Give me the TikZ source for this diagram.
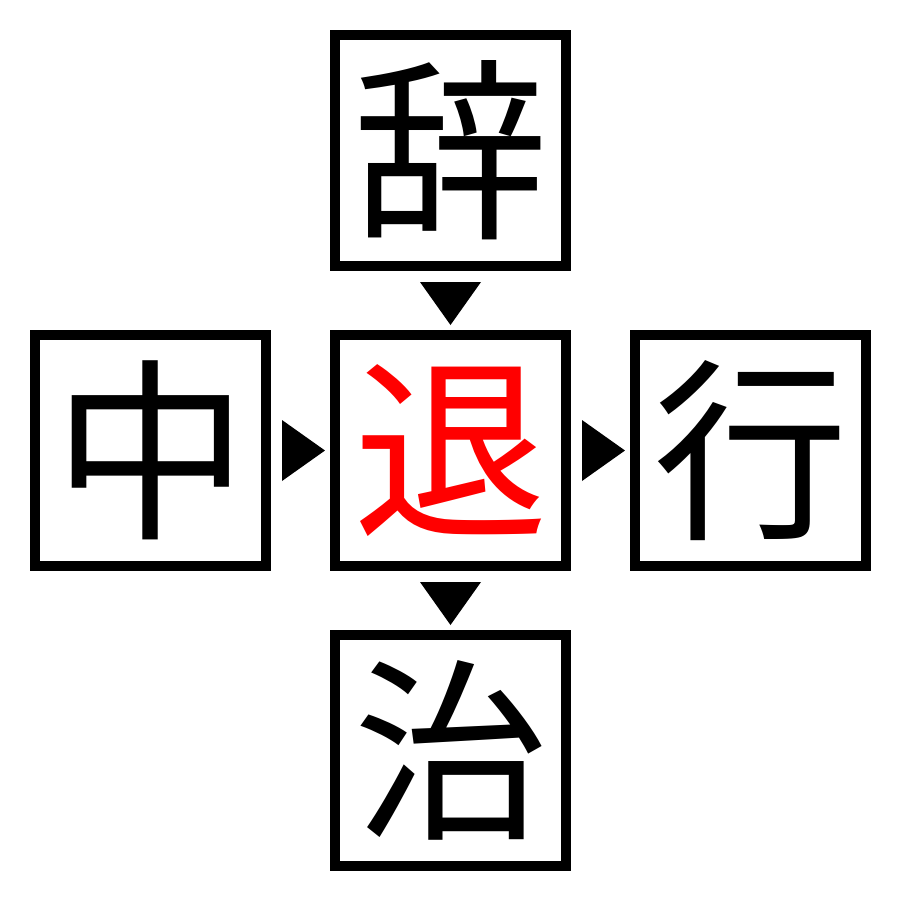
\documentclass[tikz,border=0pt]{standalone}
\usepackage{fontspec}
\newfontfamily\cjk{Noto Sans CJK JP}
\usetikzlibrary{calc}

\begin{document}
\begin{tikzpicture}[x=1mm,y=-1mm]
\definecolor{mycolorFF0000}{rgb}{1,0,0}
\definecolor{mycolor000000}{rgb}{0,0,0}
\definecolor{mycolorFFFFFF}{rgb}{1,1,1}
\tikzset{kanjibox/.style={draw=mycolor000000,line width=1.0mm,minimum size=23.1mm,inner sep=0.0,text=mycolor000000,font=\cjk\fontsize{19.5mm}{19.5mm}\selectfont}}
\path [fill=mycolorFFFFFF] (0,0) rectangle (90,90);
\useasboundingbox (0,0) rectangle (90,90);
\begin{scope}
\node [kanjibox] (top) at (45.05,15.05) {辞};
\node [kanjibox] (left) at (15.05,45.05) {中};
\node [kanjibox,text=mycolorFF0000] (mid) at (45.05,45.05) {退};
\node [kanjibox] (right) at (75.05,45.05) {行};
\node [kanjibox] (bottom) at (45.05,75.05) {治};
\end{scope}
\begin{scope}
\path [fill=mycolor000000] ($(top.south)!0.5!(mid.north)+(0,0.3)$) +(-3.05,-2.15) -- +(3.05,-2.15) -- +(0,2.15) -- cycle;
\path [fill=mycolor000000] ($(mid.south)!0.5!(bottom.north)+(0,0.3)$) +(-3.05,-2.15) -- +(3.05,-2.15) -- +(0,2.15) -- cycle;
\path [fill=mycolor000000] ($(left.east)!0.5!(mid.west)+(0.3,0)$) +(-2.15,-3.05) -- +(-2.15,3.05) -- +(2.15,0) -- cycle;
\path [fill=mycolor000000] ($(mid.east)!0.5!(right.west)+(0.3,0)$) +(-2.15,-3.05) -- +(-2.15,3.05) -- +(2.15,0) -- cycle;
\end{scope}
\end{tikzpicture}
\end{document}
